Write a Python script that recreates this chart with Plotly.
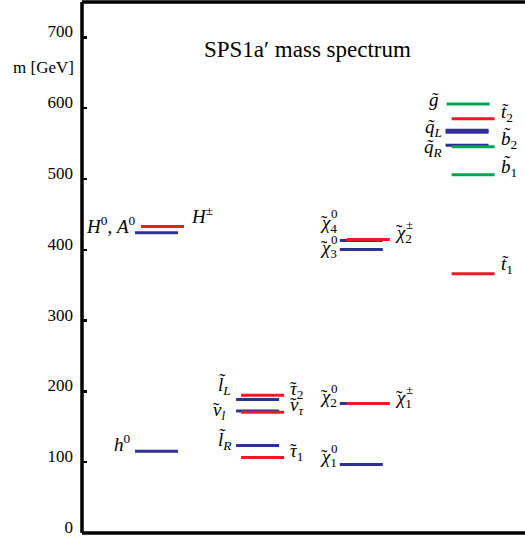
import plotly.graph_objects as go

# ---------------- data: masses in GeV ----------------
higgs_neutral_mass = [115.6, 424.0]            # h0, H0/A0
higgs_charged_mass = [433.0]                   # H+-
slepton_mass = [188.6, 172.2, 123.7]           # l_L, nu_l, l_R
stau_mass = [194.6, 170.4, 106.8]              # tau2, nu_tau, tau1
neutralino_mass = [96.9, 183.0, 400.6, 413.3]  # chi1..chi4
chargino_mass = [183.0, 414.7]                 # chi1+-, chi2+-
squark_mass = [566.0, 569.0, 547.8]            # q_L (two), q_R
stop_mass = [585.0, 366.0]                     # t2, t1
sbottom_mass = [545.4, 506.0]                  # b2, b1
gluino_mass = [606.0]

ytick_vals = [0, 100, 200, 300, 400, 500, 600, 700]
ytick_text = [str(v) for v in ytick_vals]
title_text = "SPS1a\u2032 mass spectrum"
ylabel_text = "m [GeV]"

# ---------------- styling / layout ----------------
BLUE = "#2E3192"
RED = "#ED1C24"
GREEN = "#00A651"
FONT = "'Liberation Serif', 'DejaVu Serif', 'Times New Roman', serif"
LSIZE = 19
SSIZE = 13

W, H = 525, 540
PX_L, PX_R, PY_T, PY_B = 82, 525, 2, 533
COL = 103.7            # px per column
X0PX = 135             # px of first column start
LEN = 43 / COL         # level line length in column units
x_range = [(PX_L - X0PX) / COL, (PX_R - X0PX) / COL]
y_range = [0, 750]

groups = [
    # masses, column start, offset, color
    (higgs_neutral_mass, 0.0, 0.0, BLUE),
    (slepton_mass, 0.975, 0.0, BLUE),
    (neutralino_mass, 1.975, 0.0, BLUE),
    (squark_mass, 2.995, 0.0, BLUE),
    (higgs_charged_mass, 0.0, 0.058, RED),
    (stau_mass, 0.975, 0.048, RED),
    (chargino_mass, 1.975, 0.068, RED),
    (stop_mass, 2.995, 0.058, RED),
    (gluino_mass, 2.995, 0.01, GREEN),
    (sbottom_mass, 2.995, 0.058, GREEN),
]

fig = go.Figure()
for masses, col, off, color in groups:
    xs, ys = [], []
    for m in masses:
        xs += [col + off, col + off + LEN, None]
        ys += [m, m, None]
    fig.add_trace(go.Scatter(x=xs, y=ys, mode="lines",
                             line=dict(color=color, width=3),
                             hoverinfo="skip", showlegend=False))


def px2paper(px, py):
    return (px - PX_L) / (PX_R - PX_L), (PY_B - py) / (PY_B - PY_T)


annotations = []


def add_text(text, px, py, xa, size=LSIZE):
    xp, yp = px2paper(px, py)
    annotations.append(dict(text=text, x=xp, y=yp, xref="paper", yref="paper",
                            xanchor=xa, yanchor="middle", showarrow=False,
                            font=dict(family=FONT, size=size, color="black")))


T = "\u0303"
DY = 0  # global vertical nudge of level labels
# labels using latin letters (combining tilde renders fine)
labels = [
    ("<i>h</i><sup>0</sup>", 133, 443, "right"),
    ("<i>H</i><sup>0</sup>, <i>A</i><sup>0</sup>", 138, 225, "right"),
    ("<i>H</i><sup>\u00b1</sup>", 189, 215, "left"),
    ("<i>l" + T + "</i><sub><i>L</i></sub>", 233, 386, "right"),
    ("<i>l" + T + "</i><sub><i>R</i></sub>", 233, 441, "right"),
    ("<i>g" + T + "</i>", 441, 99, "right"),
    ("<i>q" + T + "</i><sub><i>L</i></sub>", 444, 128, "right"),
    ("<i>q" + T + "</i><sub><i>R</i></sub>", 444, 148, "right"),
    ("<i>t" + T + "</i><sub>2</sub>", 499, 113, "left"),
    ("<i>b" + T + "</i><sub>2</sub>", 499, 140, "left"),
    ("<i>b" + T + "</i><sub>1</sub>", 499, 168, "left"),
    ("<i>t" + T + "</i><sub>1</sub>", 499, 265, "left"),
]
for text, px, py, xa in labels:
    add_text(text, px, py + DY, xa)

# greek labels: base letter + separately placed tilde and stacked superscript
# base, sub, sup, left px, center py, base glyph width px
greek = [
    ("\u03bd", "<i>l</i>", "", 211, 411, 9),
    ("\u03c4", "2", "", 288, 390, 8),
    ("\u03bd", "<i>\u03c4</i>", "", 288, 406, 9),
    ("\u03c4", "1", "", 288, 452, 8),
    ("\u03c7", "2", "0", 318, 398, 10),
    ("\u03c7", "1", "0", 318, 458, 10),
    ("\u03c7", "1", "\u00b1", 393, 399, 10),
    ("\u03c7", "4", "0", 318, 224, 10),
    ("\u03c7", "3", "0", 318, 249, 10),
    ("\u03c7", "2", "\u00b1", 393, 234, 10),
]
for base, sub, sup, px, py, w in greek:
    text = "<i>" + base + "</i><sub>" + sub + "</sub>"
    add_text(text, px, py + DY, "left")
    add_text("\u02dc", px + w / 2 + 1, py + DY - 2, "center")
    if sup:
        add_text(sup, px + w + 1, py + DY - 10, "left", size=SSIZE)

add_text(title_text, 307, 49, "center", size=23)
add_text(ylabel_text, 76, 68, "right", size=17)

shapes = [
    dict(type="line", xref="paper", yref="paper", x0=0, x1=0, y0=0, y1=1,
         line=dict(color="black", width=3.5)),
    dict(type="line", xref="paper", yref="paper", x0=0, x1=1, y0=1, y1=1,
         line=dict(color="black", width=3.5)),
    dict(type="line", xref="paper", yref="paper", x0=0, x1=1, y0=0, y1=0,
         line=dict(color="black", width=3.5)),
]

fig.update_layout(
    width=W, height=H,
    margin=dict(l=PX_L, r=W - PX_R, t=PY_T, b=H - PY_B, autoexpand=False),
    paper_bgcolor="white", plot_bgcolor="white",
    font=dict(family=FONT, color="black"),
    xaxis=dict(range=x_range, visible=False, fixedrange=True,
               automargin=False),
    yaxis=dict(range=y_range, tickvals=ytick_vals, ticktext=ytick_text,
               ticks="inside", ticklen=5, tickwidth=2.5, tickcolor="black",
               showgrid=False, zeroline=False, showline=False,
               ticklabelstandoff=8, ticklabelshift=-6,
               ticklabeloverflow="allow", automargin=False,
               tickfont=dict(family=FONT, size=17, color="black"),
               fixedrange=True),
    annotations=annotations,
    shapes=shapes,
    showlegend=False,
)

fig.write_html("out.html",
               config={"displayModeBar": False, "staticPlot": True},
               post_script="document.body.style.margin='0';"
                           "document.body.style.padding='0';")
